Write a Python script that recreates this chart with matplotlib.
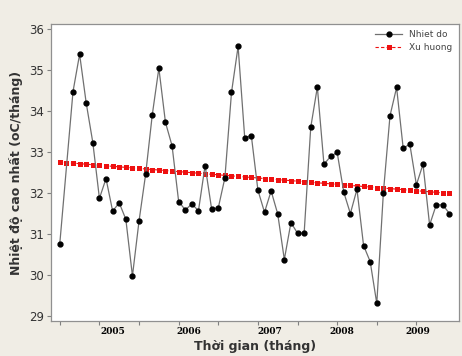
import numpy as np
import matplotlib.pyplot as plt

# monthly max temperature, 2005-2009 (one month missing in the source)
month_idx = [0] + list(range(2, 60))
temp = [30.77, 34.47, 35.38, 34.19, 33.23, 31.87, 32.35, 31.56, 31.76, 31.36,
        29.98, 31.32, 32.46, 33.90, 35.04, 33.72, 33.15, 31.79, 31.59, 31.73,
        31.57, 32.67, 31.60, 31.64, 32.37, 34.45, 35.57, 33.35, 33.40, 32.07,
        31.53, 32.05, 31.49, 30.38, 31.28, 31.02, 31.02, 33.60, 34.58, 32.70,
        32.89, 32.99, 32.02, 31.50, 32.09, 30.72, 30.33, 29.31, 32.01, 33.88,
        34.57, 33.09, 33.19, 32.20, 32.70, 31.22, 31.71, 31.71, 31.50]
years = ["2005", "2006", "2007", "2008", "2009"]
year_pos = [8, 19.5, 31.8, 42.7, 54.2]

# linear trend
coef = np.polyfit(month_idx, temp, 1)
trend_x = np.arange(60)
trend = np.polyval(coef, trend_x)

fig = plt.figure(figsize=(4.62, 3.56), dpi=100, facecolor="#f0ede5")
ax = fig.add_axes([0.110, 0.098, 0.8835, 0.835])
ax.set_facecolor("white")

ax.plot(trend_x, trend, color="#ee1111", lw=0.8, ls=(0, (3, 2)), marker="s",
        ms=3.6, mew=0, mfc="#ee1111", label="Xu huong", zorder=2)
ax.plot(month_idx, temp, color="#707070", lw=0.9, marker="o", ms=3.5,
        mfc="black", mec="black", label="Nhiet do", zorder=3)

ax.set_xlim(-1.36, 60.45)
ax.set_ylim(28.88, 36.12)
ax.set_yticks(range(29, 37))
ax.set_xticks(range(0, 60, 6))
ax.set_xticklabels([])
ax.set_xticks(year_pos, minor=True)
ax.set_xticklabels(years, minor=True, family="DejaVu Serif",
                   fontweight="bold", fontsize=6.5)
ax.tick_params(axis="x", which="minor", length=0, pad=4)
ax.tick_params(axis="x", which="major", length=3, color="#808080")
ax.tick_params(axis="y", length=3, color="#808080", labelsize=8.5,
               labelcolor="#333333", pad=2)
for s in ax.spines.values():
    s.set_color("#909090")
    s.set_linewidth(0.9)

ax.set_ylabel("Nhiệt độ cao nhất (oC/tháng)", fontsize=9, fontweight="bold",
              color="#333333", labelpad=4)
ax.set_xlabel("Thời gian (tháng)", fontsize=9, fontweight="bold",
              color="#333333", labelpad=3)

h, l = ax.get_legend_handles_labels()
leg = ax.legend(h[::-1], l[::-1], loc="upper right", frameon=False,
                fontsize=6.5, handlelength=3, borderaxespad=0.3,
                labelspacing=0.4)
for t in leg.get_texts():
    t.set_color("#444444")

fig.savefig("out.png", dpi=100, facecolor=fig.get_facecolor())
